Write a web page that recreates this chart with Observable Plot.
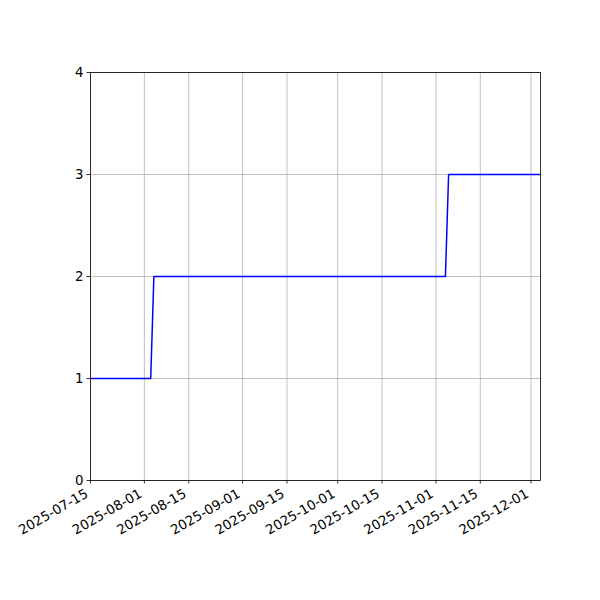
<!DOCTYPE html>
<html>
<head>
<meta charset="utf-8">
<script src="https://cdn.jsdelivr.net/npm/d3@7"></script>
<script src="https://cdn.jsdelivr.net/npm/@observablehq/plot@0.6"></script>
<style>
  html, body { margin: 0; padding: 0; background: white; }
</style>
</head>
<body>
<div id="chart"></div>
<script>
// Step-like series (change points)
const dates = ["2025-07-15", "2025-08-03", "2025-08-04", "2025-11-04", "2025-11-05", "2025-12-04"];
const values = [1, 1, 2, 2, 3, 3];

const xTickLabels = ["2025-07-15", "2025-08-01", "2025-08-15", "2025-09-01", "2025-09-15",
                     "2025-10-01", "2025-10-15", "2025-11-01", "2025-11-15", "2025-12-01"];
const yTicks = [0, 1, 2, 3, 4];
const xDomain = ["2025-07-15", "2025-12-04"];

const parse = d3.utcParse("%Y-%m-%d");
const data = dates.map((d, i) => ({date: parse(d), value: values[i]}));
const xTicks = xTickLabels.map(parse);

const chart = Plot.plot({
  width: 600,
  height: 600,
  marginLeft: 90,
  marginRight: 60,
  marginTop: 72,
  marginBottom: 120,
  style: {fontFamily: "DejaVu Sans", fontSize: "13.33px", background: "white", color: "black"},
  x: {type: "utc", domain: xDomain.map(parse)},
  y: {domain: [0, 4]},
  marks: [
    Plot.gridX(xTicks, {stroke: "#b0b0b0", strokeOpacity: 1, strokeWidth: 0.8}),
    Plot.gridY(yTicks, {stroke: "#b0b0b0", strokeOpacity: 1, strokeWidth: 0.8}),
    Plot.line(data, {x: "date", y: "value", stroke: "blue", strokeWidth: 1.5}),
    Plot.axisY({ticks: yTicks, tickFormat: d3.format("d"), tickSize: 3.5, tickPadding: 3.5, fontSize: 13.33, label: null, stroke: "black", strokeWidth: 0.8}),
    Plot.axisX({ticks: xTicks, tickSize: 3.5, tickFormat: () => "", label: null, stroke: "black", strokeWidth: 0.8}),
    Plot.text(xTicks, {
      x: d => d,
      text: (d, i) => xTickLabels[i],
      frameAnchor: "bottom",
      rotate: -30,
      textAnchor: "end",
      lineAnchor: "bottom",
      dx: -1.5,
      dy: 15.7,
      fontSize: 13.33,
      fill: "black"
    }),
    Plot.frame({stroke: "black", strokeWidth: 0.8})
  ]
});
document.getElementById("chart").appendChild(chart);
</script>
</body>
</html>
